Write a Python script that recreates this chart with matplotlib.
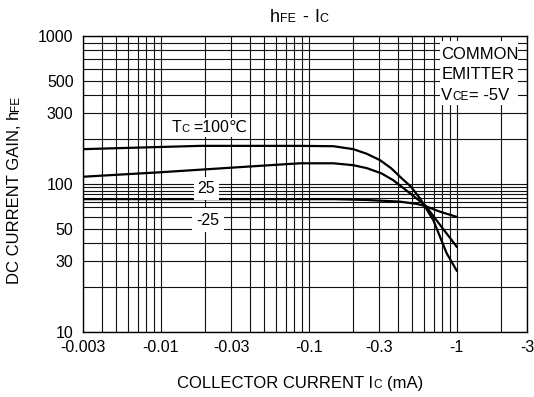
import matplotlib
matplotlib.use("Agg")
import matplotlib.pyplot as plt
from matplotlib.patches import Rectangle
from matplotlib.ticker import NullFormatter
from matplotlib.transforms import offset_copy

plt.rcParams['font.family'] = ['Liberation Sans', 'DejaVu Sans']

# (Ic in mA, magnitude)
ic_100 = [0.003, 0.0185, 0.0873, 0.147, 0.2, 0.247, 0.303, 0.36, 0.414, 0.49, 0.565, 0.695, 0.856, 1.0]
hfe_100 = [172, 181, 181, 180, 172, 160, 145, 128, 112, 96, 80, 57, 34, 26]

ic_25 = [0.003, 0.0099, 0.0548, 0.0873, 0.147, 0.2, 0.247, 0.31, 0.373, 0.484, 0.611, 0.771, 1.0]
hfe_25 = [112, 120, 134, 138, 138, 134, 128, 118, 106, 86.5, 72, 53, 37.7]

ic_m25 = [0.003, 0.0548, 0.147, 0.247, 0.414, 0.54, 0.611, 0.771, 1.0]
hfe_m25 = [79, 79, 79, 78, 76, 73.3, 71, 65, 60]

xticks = [0.003, 0.01, 0.03, 0.1, 0.3, 1, 3]
xticklabels = ['-0.003', '-0.01', '-0.03', '-0.1', '-0.3', '-1', '-3']
yticks = [10, 30, 50, 100, 300, 500, 1000]
yticklabels = ['10', '30', '50', '100', '300', '500', '1000']
ygrid_extra = [75, 85, 95]

W, H = 534, 397
fig = plt.figure(figsize=(W / 100, H / 100), dpi=100)
ax = fig.add_axes([83.3 / W, (H - 332) / H, (527.3 - 83.3) / W, (332 - 36) / H])
ax.set_xscale('log')
ax.set_yscale('log')
ax.set_xlim(0.003, 3)
ax.set_ylim(10, 1000)

xminor = [m * 10.0 ** e for e in range(-3, 1) for m in range(1, 10)]
xminor = [v for v in xminor if 0.003 <= v <= 3]
yminor = [m * 10.0 ** e for e in range(1, 3) for m in range(1, 10)] + ygrid_extra
ax.set_xticks(xticks)
ax.set_xticklabels(xticklabels)
ax.set_xticks(xminor, minor=True)
ax.set_yticks(yticks)
ax.set_yticklabels(yticklabels)
ax.set_yticks(yminor, minor=True)
ax.xaxis.set_minor_formatter(NullFormatter())
ax.yaxis.set_minor_formatter(NullFormatter())
ax.tick_params(which='both', length=0, labelsize=11.5)
ax.tick_params(axis='x', pad=6)
ax.tick_params(axis='y', pad=7)
ax.grid(which='both', color='#111111', linewidth=0.8)
ax.set_axisbelow(True)
for s in ax.spines.values():
    s.set_linewidth(1.0)

for x, y in [(ic_100, hfe_100), (ic_25, hfe_25), (ic_m25, hfe_m25)]:
    ax.plot(x, y, color='black', linewidth=1.6, zorder=3)

renderer = fig.canvas.get_renderer()


def runs(parts, x, y, transform, rotation=0, ha='center', bbox=None, zorder=5):
    # parts: (text, fontsize, gap in px before)
    texts = []
    for s, fs, gap in parts:
        t = fig.text(x, y, s, fontsize=fs, rotation=rotation, rotation_mode='anchor',
                     ha='left', va='baseline', transform=transform, zorder=zorder)
        if bbox:
            t.set_bbox(bbox)
        texts.append(t)
    sizes = []
    for t in texts:
        e = t.get_window_extent(renderer)
        sizes.append(e.width if rotation == 0 else e.height)
    total = sum(sizes) + sum(p[2] for p in parts)
    off = -total / 2 if ha == 'center' else 0
    for t, sz, p in zip(texts, sizes, parts):
        off += p[2]
        if rotation == 0:
            t.set_transform(offset_copy(transform, fig=fig, x=off, y=0, units='dots'))
        else:
            t.set_transform(offset_copy(transform, fig=fig, x=0, y=off, units='dots'))
        off += sz
    return texts


runs([('h', 13, 0), ('FE', 9, 0), ('-', 13, 6), ('I', 13, 6), ('C', 9, 0)],
     299 / W, (H - 22) / H, fig.transFigure)
runs([('COLLECTOR CURRENT I', 12, 0), ('C', 8.5, 0), ('(mA)', 12, 5)],
     300 / W, (H - 388) / H, fig.transFigure)
runs([('DC CURRENT GAIN, h', 12, 0), ('FE', 8.5, 0)],
     19 / W, (H - 190) / H, fig.transFigure, rotation=90)

wbox = dict(facecolor='white', edgecolor='none', pad=1.5)
runs([('T', 11.5, 0), ('C', 8, 0), ('=100\u2103', 11.5, 4)],
     0.0119, 225, ax.transData, ha='left', bbox=wbox)
ax.text(0.0204, 93.5, '25', fontsize=11.5, ha='center', va='center', zorder=5,
        bbox=dict(facecolor='white', edgecolor='none', pad=3))
ax.text(0.0209, 57.1, '-25', fontsize=11.5, ha='center', va='center', zorder=5,
        bbox=dict(facecolor='white', edgecolor='none', pad=3))

ax.add_patch(Rectangle((0.771, 342), 2.58 - 0.771, 925 - 342, facecolor='white',
                       edgecolor='none', zorder=4))
runs([('COMMON', 12, 0)], 0.785, 700, ax.transData, ha='left')
runs([('EMITTER', 12, 0)], 0.785, 510, ax.transData, ha='left')
runs([('V', 12, 0), ('CE', 8.5, 0), ('= -5V', 12, 0)], 0.785, 372, ax.transData, ha='left')

fig.savefig('out.png', dpi=100)
